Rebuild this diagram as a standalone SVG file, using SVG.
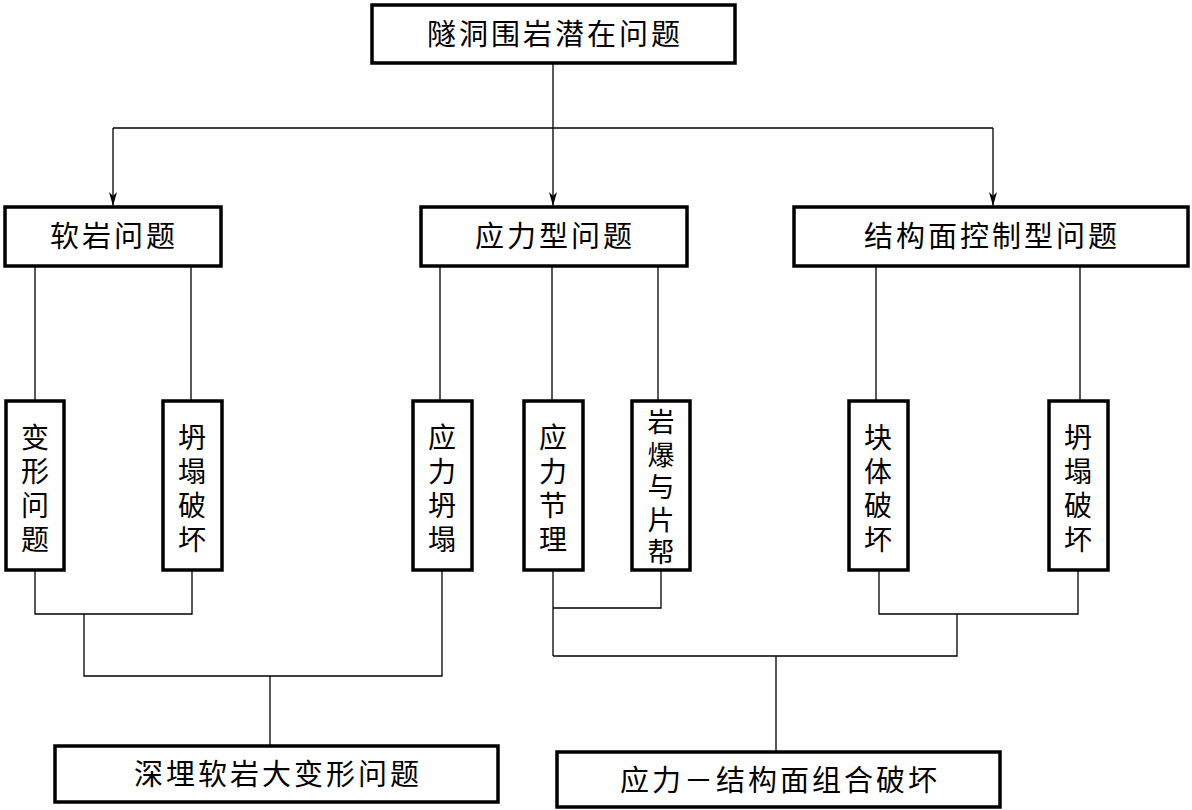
<svg xmlns="http://www.w3.org/2000/svg" width="1192" height="810" viewBox="0 0 1192 810">
<style>
.box{fill:#fff;stroke:#000;stroke-width:3.5}
.ln{fill:none;stroke:#000;stroke-width:1.3}
.t{font-family:"Noto Sans CJK SC","Noto Sans CJK JP",sans-serif;font-size:29px;fill:#000;text-anchor:middle;letter-spacing:3px}
.v{font-family:"Noto Sans CJK SC","Noto Sans CJK JP",sans-serif;font-size:28px;fill:#000;text-anchor:middle}
.v5{font-size:27px}
</style>
<defs>
<marker id="arr" viewBox="0 0 14 8" refX="14" refY="4" markerWidth="14" markerHeight="8" markerUnits="userSpaceOnUse" orient="auto">
<path d="M0,0 L14,4 L0,8 L4,4 z" fill="#000"/>
</marker>
</defs>
<g id="connectors">
<path class="ln" d="M553,63 V128"/>
<path class="ln" d="M113,128 H993"/>
<path class="ln" d="M113,128 V206" marker-end="url(#arr)"/>
<path class="ln" d="M553,128 V206" marker-end="url(#arr)"/>
<path class="ln" d="M993,128 V206" marker-end="url(#arr)"/>
<path class="ln" d="M35,266 V401 M191,266 V401"/>
<path class="ln" d="M440,266 V401 M552,266 V401 M658,266 V401"/>
<path class="ln" d="M876,266 V401 M1080,266 V401"/>
<path class="ln" d="M35,570 V614 H192 V570"/>
<path class="ln" d="M84,614 V676 H442 V570"/>
<path class="ln" d="M270,676 V745"/>
<path class="ln" d="M553,570 V656 M553,608 H661 V570"/>
<path class="ln" d="M879,570 V614 H1078 V570"/>
<path class="ln" d="M553,656 H957 V614"/>
<path class="ln" d="M776,656 V752"/>
</g>
<g id="n-root"><rect class="box" x="372" y="5" width="363" height="58"/><text class="t" x="555" y="45">隧洞围岩潜在问题</text></g>
<g id="n-soft"><rect class="box" x="5" y="207" width="216" height="59"/><text class="t" x="114" y="247">软岩问题</text></g>
<g id="n-stress"><rect class="box" x="421" y="207" width="266" height="59"/><text class="t" x="555" y="247">应力型问题</text></g>
<g id="n-struct"><rect class="box" x="794" y="207" width="394" height="59"/><text class="t" x="992" y="247">结构面控制型问题</text></g>
<g id="n-deform"><rect class="box" x="6" y="401" width="58" height="169"/>
<text class="v" x="35" y="448">变</text><text class="v" x="35" y="482">形</text><text class="v" x="35" y="516">问</text><text class="v" x="35" y="550">题</text></g>
<g id="n-collapse1"><rect class="box" x="163" y="401" width="59" height="169"/>
<text class="v" x="192" y="448">坍</text><text class="v" x="192" y="482">塌</text><text class="v" x="192" y="516">破</text><text class="v" x="192" y="550">坏</text></g>
<g id="n-stresscollapse"><rect class="box" x="413" y="401" width="59" height="169"/>
<text class="v" x="442" y="448">应</text><text class="v" x="442" y="482">力</text><text class="v" x="442" y="516">坍</text><text class="v" x="442" y="550">塌</text></g>
<g id="n-stressjoint"><rect class="box" x="524" y="401" width="59" height="169"/>
<text class="v" x="553" y="448">应</text><text class="v" x="553" y="482">力</text><text class="v" x="553" y="516">节</text><text class="v" x="553" y="550">理</text></g>
<g id="n-rockburst"><rect class="box" x="632" y="401" width="58" height="169"/>
<text class="v v5" x="661" y="432">岩</text><text class="v v5" x="661" y="464.5">爆</text><text class="v v5" x="661" y="497">与</text><text class="v v5" x="661" y="529.5">片</text><text class="v v5" x="661" y="562">帮</text></g>
<g id="n-block"><rect class="box" x="849" y="401" width="59" height="169"/>
<text class="v" x="878" y="448">块</text><text class="v" x="878" y="482">体</text><text class="v" x="878" y="516">破</text><text class="v" x="878" y="550">坏</text></g>
<g id="n-collapse2"><rect class="box" x="1049" y="401" width="59" height="169"/>
<text class="v" x="1078" y="448">坍</text><text class="v" x="1078" y="482">塌</text><text class="v" x="1078" y="516">破</text><text class="v" x="1078" y="550">坏</text></g>
<g id="n-deep"><rect class="box" x="55" y="746" width="443" height="56"/><text class="t" x="278" y="785">深埋软岩大变形问题</text></g>
<g id="n-combined"><rect class="box" x="557" y="752" width="443" height="55"/><text class="t" x="780" y="791">应力－结构面组合破坏</text></g>
</svg>
